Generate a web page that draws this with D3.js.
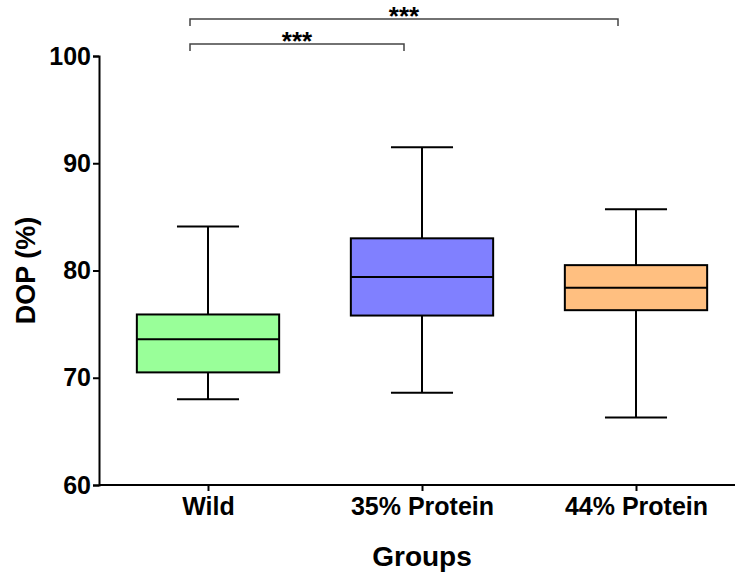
<!DOCTYPE html>
<html>
<head>
<meta charset="utf-8">
<script src="https://cdn.jsdelivr.net/npm/d3@7"></script>
<style>
  html, body { margin: 0; padding: 0; background: #fff; }
  svg { display: block; }
  text { font-family: "Liberation Sans", Arial, sans-serif; font-weight: bold; fill: #000; }
</style>
</head>
<body>
<svg id="chart" width="735" height="573"></svg>
<script>
// Groups and their five-number summaries (DOP, %)
const groups = ["Wild", "35% Protein", "44% Protein"];
const whiskerLow  = [68.0, 68.6, 66.3];
const q1          = [70.5, 75.8, 76.3];
const median      = [73.6, 79.4, 78.4];
const q3          = [75.9, 83.0, 80.5];
const whiskerHigh = [84.1, 91.5, 85.7];
const fills = ["#99FF99", "#8080FF", "#FFBF80"];

// Y axis ticks
const yTicks = [60, 70, 80, 90, 100];

// Significance brackets: [from group, to group, label]
const sigFrom = ["Wild", "Wild"];
const sigTo = ["35% Protein", "44% Protein"];
const sigLabel = ["***", "***"];

const svg = d3.select("#chart");
const plotLeft = 99, plotBottom = 485, plotTop = 56;

const y = d3.scaleLinear().domain([60, 100]).range([plotBottom, plotTop]);
const x = d3.scalePoint().domain(groups).range([101, 743]).padding(0.5);
const boxW = x.step() * 0.665;
const capW = x.step() * 0.29;

// Y axis
const yAxis = svg.append("g")
  .attr("transform", `translate(${plotLeft},0)`)
  .call(d3.axisLeft(y).tickValues(yTicks).tickSize(6).tickPadding(2).tickFormat(d3.format("d")));
yAxis.select(".domain").attr("stroke", "#000").attr("stroke-width", 2);
yAxis.selectAll(".tick line").attr("stroke", "#000").attr("stroke-width", 2);
yAxis.selectAll(".tick text").style("font-size", "25px").style("font-family", "Liberation Sans, Arial, sans-serif").style("font-weight", "bold").attr("fill", "#000");

// X axis
const xAxis = svg.append("g")
  .attr("transform", `translate(0,${plotBottom})`)
  .call(d3.axisBottom(x).tickSize(6).tickPadding(6).tickSizeOuter(0));
xAxis.select(".domain").attr("d", `M${plotLeft},0H743`).attr("stroke", "#000").attr("stroke-width", 2);
xAxis.selectAll(".tick line").attr("stroke", "#000").attr("stroke-width", 2);
xAxis.selectAll(".tick text").style("font-size", "25px").style("font-family", "Liberation Sans, Arial, sans-serif").style("font-weight", "bold").attr("fill", "#000");

// Axis titles
svg.append("text")
  .attr("transform", `translate(35,${(plotTop + plotBottom) / 2}) rotate(-90)`)
  .attr("text-anchor", "middle")
  .style("font-size", "27px")
  .text("DOP (%)");
svg.append("text")
  .attr("x", x("35% Protein"))
  .attr("y", 566)
  .attr("text-anchor", "middle")
  .style("font-size", "28px")
  .text("Groups");

// Box plots
const boxes = svg.append("g").selectAll("g").data(groups).join("g");
boxes.each(function (g, i) {
  const sel = d3.select(this);
  const cx = x(g);
  // whiskers
  sel.append("line").attr("x1", cx).attr("x2", cx).attr("y1", y(whiskerHigh[i])).attr("y2", y(q3[i]))
    .attr("stroke", "#000").attr("stroke-width", 2);
  sel.append("line").attr("x1", cx).attr("x2", cx).attr("y1", y(q1[i])).attr("y2", y(whiskerLow[i]))
    .attr("stroke", "#000").attr("stroke-width", 2);
  // caps
  [whiskerHigh[i], whiskerLow[i]].forEach(v => {
    sel.append("line").attr("x1", cx - capW / 2).attr("x2", cx + capW / 2).attr("y1", y(v)).attr("y2", y(v))
      .attr("stroke", "#000").attr("stroke-width", 2);
  });
  // box
  sel.append("rect")
    .attr("x", cx - boxW / 2).attr("width", boxW)
    .attr("y", y(q3[i])).attr("height", y(q1[i]) - y(q3[i]))
    .attr("fill", fills[i]).attr("stroke", "#000").attr("stroke-width", 2);
  // median
  sel.append("line").attr("x1", cx - boxW / 2).attr("x2", cx + boxW / 2).attr("y1", y(median[i])).attr("y2", y(median[i]))
    .attr("stroke", "#000").attr("stroke-width", 2);
});

// Significance brackets
const bracketY = [44, 19];
const bracketOffset = 18;
sigFrom.forEach((f, i) => {
  const x1 = x(f) - bracketOffset, x2 = x(sigTo[i]) - bracketOffset, by = bracketY[i];
  svg.append("path")
    .attr("d", `M${x1},${by + 7}V${by}H${x2}V${by + 7}`)
    .attr("fill", "none").attr("stroke", "#444").attr("stroke-width", 1.5);
  svg.append("text")
    .attr("x", (x1 + x2) / 2).attr("y", by + 6)
    .attr("text-anchor", "middle")
    .style("font-size", "26px")
    .text(sigLabel[i]);
});
</script>
</body>
</html>
